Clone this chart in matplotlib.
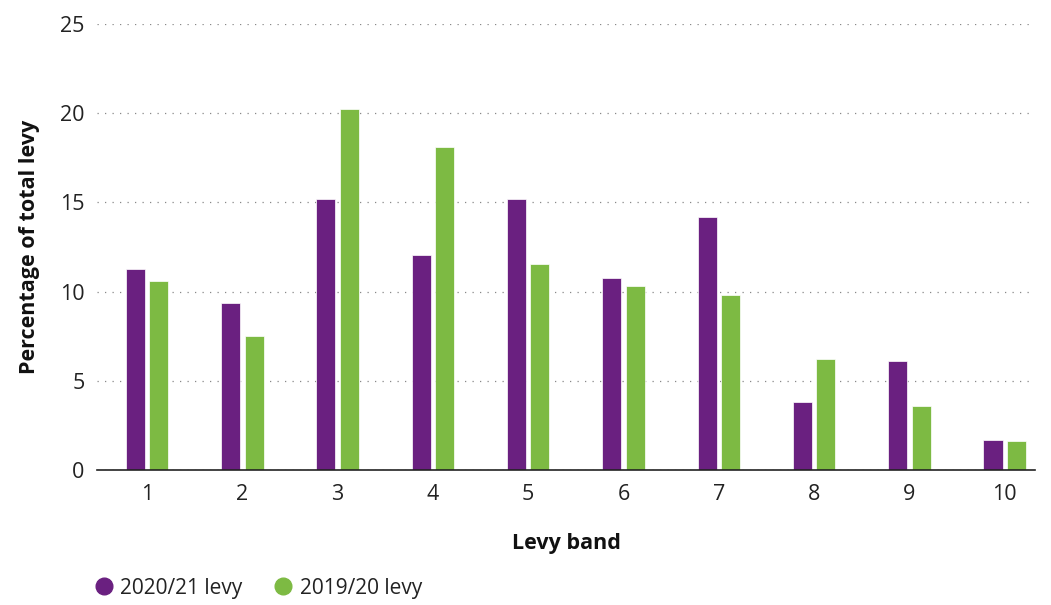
import matplotlib.pyplot as plt
import numpy as np
from matplotlib.lines import Line2D

plt.rcParams['font.family'] = ['Open Sans', 'DejaVu Sans']

bands = ['1', '2', '3', '4', '5', '6', '7', '8', '9', '10']
levy_2021 = [11.25, 9.35, 15.2, 12.05, 15.2, 10.75, 14.2, 3.8, 6.1, 1.7]
levy_1920 = [10.6, 7.5, 20.25, 18.1, 11.55, 10.3, 9.8, 6.25, 3.6, 1.6]

purple = '#6a2080'
green = '#7dba43'

fig = plt.figure(figsize=(10.51, 6.05), dpi=100)
ax = fig.add_axes([0.0923, 0.2231, 0.8927, 0.7372])

x = np.arange(len(bands))
w = 0.2
ax.bar(x - 0.123, levy_2021, w, color=purple, edgecolor='white', linewidth=0.5, zorder=3)
ax.bar(x + 0.123, levy_1920, w, color=green, edgecolor='white', linewidth=0.5, zorder=3)

ax.set_xlim(-0.525, 9.32)
ax.set_ylim(0, 25)
ax.set_yticks([0, 5, 10, 15, 20, 25])
ax.set_xticks(x)
ax.set_xticklabels(bands)
ax.tick_params(axis='both', length=0, labelsize=15.5, colors='#222222')
ax.tick_params(axis='x', pad=10)
ax.tick_params(axis='y', pad=9)

ax.yaxis.grid(True, linestyle=(0, (1, 5)), color='#888888', linewidth=0.9)
ax.set_axisbelow(True)
for s in ['top', 'right', 'left']:
    ax.spines[s].set_visible(False)
ax.spines['bottom'].set_color('#222222')
ax.spines['bottom'].set_linewidth(1.2)
ax.spines['bottom'].set_zorder(4)

ax.set_xlabel('Levy band', fontsize=15.5, fontweight='bold', labelpad=20, color='#111111')
ax.set_ylabel('Percentage of total levy', fontsize=15.5, fontweight='bold', labelpad=14, color='#111111')

handles = [Line2D([], [], marker='o', linestyle='', markersize=12, color=purple),
           Line2D([], [], marker='o', linestyle='', markersize=12, color=green)]
fig.legend(handles, ['2020/21 levy', '2019/20 levy'], loc='center left',
           bbox_to_anchor=(0.061, 0.028), ncol=2, frameon=False, fontsize=15,
           handletextpad=-0.2, columnspacing=0.95, labelcolor='#222222')

fig.savefig('out.png', dpi=100)
